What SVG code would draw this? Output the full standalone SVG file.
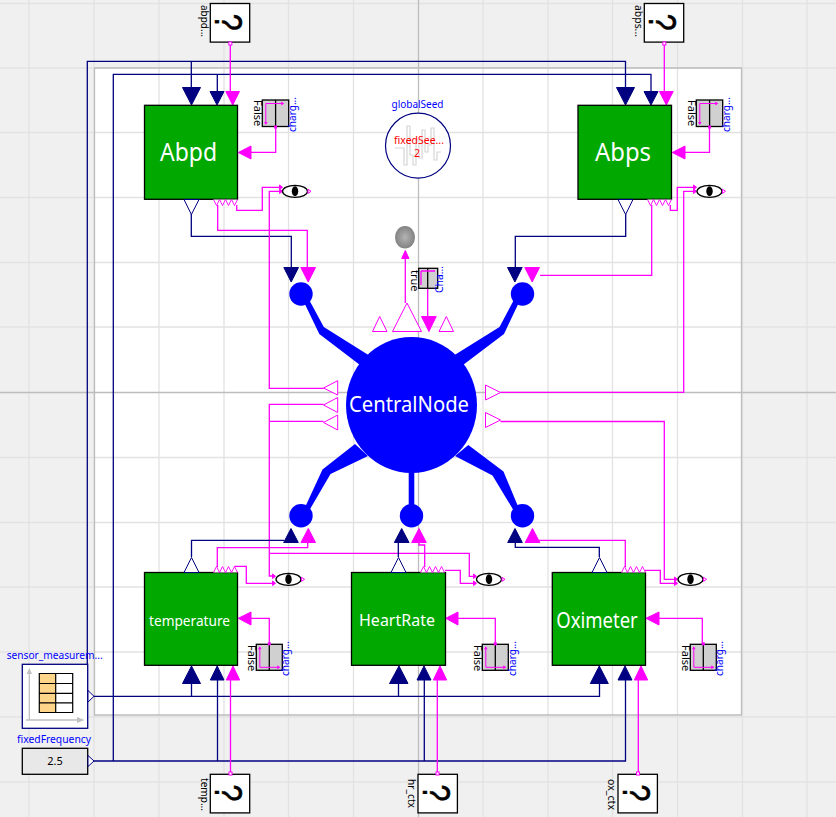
<svg xmlns="http://www.w3.org/2000/svg" xmlns:xlink="http://www.w3.org/1999/xlink" width="836" height="817" viewBox="0 0 836 817">
<style>
text{font-family:"Noto Sans","Open Sans","Liberation Sans",sans-serif}
.n{fill:none;stroke:#000080;stroke-width:1.3}
.m{fill:none;stroke:#ff00ff;stroke-width:1.3}
.nf{fill:#000080;stroke:#000080;stroke-width:1}
.mf{fill:#ff00ff;stroke:#ff00ff;stroke-width:1}
.nh{fill:#fff;stroke:#000080;stroke-width:1}
.mh{fill:#fff;stroke:#ff00ff;stroke-width:1}
.grid{stroke:#e2e2e2;stroke-width:1.3;fill:none}
.axis{stroke:#bdbdbd;stroke-width:1.3;fill:none}
.green{fill:#00a800;stroke:#000;stroke-width:1.3}
.big{fill:#fff;text-anchor:middle}
.bl{fill:#0000ff;font-size:11px}
.bk{fill:#000;font-size:11px}
.bus{fill:#0000ff}
</style>
<defs>
<radialGradient id="sph" cx="0.5" cy="0.5" r="0.55"><stop offset="0" stop-color="#b4b4b4"/><stop offset="1" stop-color="#7d7d7d"/></radialGradient>
<g id="eye">
<ellipse cx="13" cy="0" rx="12.500" ry="6" fill="#fff" stroke="#000" stroke-width="1.300"/>
<ellipse cx="13" cy="0" rx="3.200" ry="5" fill="#000"/>
<path d="M26 -2L29 0L26 2Z" fill="#fff" stroke="#ff00ff"/>
</g>
<g id="zz">
<path d="M0 0L3 6L6 0L9 6L12 0L15 6L18 0L21 6L24 0" fill="#fff" stroke="#ff00ff" stroke-width="0.900"/>
</g>
<g id="zu">
<path d="M0 0L3 -6L6 0L9 -6L12 0L15 -6L18 0L21 -6L24 0" fill="#fff" stroke="#ff00ff" stroke-width="0.900"/>
</g>
<g id="chT">
<rect x="0" y="0" width="26.400" height="26.500" fill="#d0d0d0" stroke="#000" stroke-width="1.300"/>
<path d="M13.300 0V26.500" stroke="#000" stroke-width="1.300"/>
<path d="M3.500 3.500H21M3.500 3.500V24" stroke="#ff00ff" stroke-width="1" fill="none"/>
<path d="M19 1.500L22 3.500L19 5.500zM1.700 22H5.300L3.500 25z" fill="#ff00ff"/>
<rect x="11.800" y="25.500" width="3" height="3" fill="#ff00ff"/>
</g>
<g id="chB">
<rect x="0" y="0" width="26" height="26" fill="#d0d0d0" stroke="#000" stroke-width="1.300"/>
<path d="M13 0V26" stroke="#000" stroke-width="1.300"/>
<path d="M3.500 23H23M3.500 23V3" stroke="#ff00ff" stroke-width="1" fill="none"/>
<path d="M21 21L24 23L21 25zM1.700 5H5.300L3.500 2z" fill="#ff00ff"/>
<rect x="11.500" y="-2" width="3" height="3" fill="#ff00ff"/>
</g>
<g id="qbox">
<rect x="0" y="0" width="39.400" height="38.600" fill="#fff" stroke="#000" stroke-width="1.300"/>
<text transform="translate(4.700 10.300) rotate(90) scale(0.8 1)" font-size="38" stroke="#000" stroke-width="0.500" style="font-family:'Liberation Sans',sans-serif" fill="#000">?</text>
</g>
</defs>
<rect id="canvas" width="836" height="817" fill="#f0f0f0"/>
<rect id="sheet" x="94.500" y="68" width="647" height="647" fill="#fff"/>
<path class="grid" d="M29 0V817M94 0V817M159 0V817M224 0V817M288.500 0V817M353.500 0V817M483 0V817M548 0V817M612.500 0V817M677.500 0V817M742.500 0V817M807 0V817M0 3.500H836M0 68H836M0 132.500H836M0 197.500H836M0 262.500H836M0 327H836M0 457.500H836M0 522.500H836M0 587H836M0 652H836M0 717H836M0 782H836"/>
<path class="axis" d="M418.500 0V817M0 392.500H836M94.500 68H741.500V715H94.500Z"/>

<g id="connectors">
<path class="n" d="M87.300 696V61.300H625.500V88M191.300 61.300V88M113.300 761V74.300H651V92M217.300 74.300V92"/>
<path class="n" d="M94 696.300H599.500V684M191.500 696.300V684M398.500 696.300V684"/>
<path class="n" d="M94 761H625.500V680M217.500 761V680M424.300 761V680"/>
<path class="m" d="M230.300 43V92M664.300 43V92M230.500 774V680M437.300 774V680M638.300 774V680"/>
<path class="m" d="M275.700 127V152.300H251M709.500 127V152.300H685M269.300 644V618.300H251M495.300 644V618.300H458M702.300 644V618.300H659"/>
<path class="n" d="M191.300 214V236.300H291.300V268M625.700 214V236.300H515.300V268"/>
<path class="m" d="M217.700 205V230.300H307.300V268M651.700 205V275.300H540"/>
<path class="m" d="M236.700 205V210.300H262.300V187.300H282M670.300 205V210.300H677.300V187.300H696"/>
<path class="m" d="M282 191.300H269.300V388.300H323.500M696 191.300H683.700V392.300H500.500"/>
<path class="m" d="M323.500 404.300H269.300V576H275M323.500 421.300H269.300V553.300H469.300V576.300H476M500.500 421.500H664.300V579.300H677"/>
<path class="n" d="M191.500 557V540.300H284M398.300 557V542M599.300 557V547.300H515.300V542"/>
<path class="m" d="M217.300 567V547.700H307.700V542M424.700 567V545H419V542M625.300 567V540.300H539"/>
<path class="m" d="M234.300 566.300H246.300V583.300H275M445 570.300H460.300V583.300H476M645 570.300H660.300V583.300H677"/>
<path class="m" d="M405.300 303V258M427.700 288V316"/>
<!-- arrows -->
<path class="nf" d="M182.500 87.500H200.500L191.500 105ZM210 91.500H224L217 105ZM616.500 87.500H634.500L625.500 105ZM644 91.500H658L651 105ZM283.800 267.500H298.500L291.200 282ZM507.500 267.500H522.200L514.900 282Z"/>
<path class="mf" d="M225.800 91.500H239.500L232.700 105ZM659.500 91.500H673.200L666.300 105ZM300.800 267.500H315.500L308.200 282ZM524.800 267.500H539.500L532.200 282ZM421.500 316.500H436.200L428.900 331.500Z"/>
<path class="mf" d="M238.300 152.500L251 146V159ZM672.300 152.500L685 146V159ZM238.300 618.300L251 612V625ZM445.700 618.300L458 612V625ZM646 618.300L659 612V625ZM405.300 250.500L409 258.500H401.700Z"/>
<path class="nf" d="M191.500 666L200.500 683.500H182.500ZM217.200 666L224 680H210.300ZM399 666L408 683.500H389.500ZM424 666L431 680H417ZM599.300 666L608.300 683.500H590.300ZM625 666L632 680H618ZM291 528.500L298.300 542.500H283.700ZM401.700 528.500L409 542.500H394.300ZM515 528.500L522.300 542.500H507.700Z"/>
<path class="mf" d="M233 666L239.700 680H226.300ZM440 666L446.700 680H433.300ZM641 666L647.700 680H634.300ZM308.300 528.500L315.500 542.500H301ZM419 528.500L426.300 542.500H411.700ZM532.500 528.500L539.800 542.500H525.200Z"/>
<path class="mf" stroke-width="0.500" d="M279.500 185L282.500 187.300L279.500 189.500ZM279.500 189L282.500 191.300L279.500 193.500ZM693.500 185L696.500 187.300L693.500 189.500ZM693.500 189L696.500 191.300L693.500 193.500ZM272.500 574L275.500 576.300L272.500 578.500ZM272.500 581L275.500 583.300L272.500 585.500ZM473.500 574L476.500 576.300L473.500 578.500ZM473.500 581L476.500 583.300L473.500 585.500ZM674.500 577L677.500 579.300L674.500 581.500ZM674.500 581L677.500 583.300L674.500 585.500Z"/>
</g>

<g id="CentralNode">
<path class="bus" d="M301 296L319.300 334L360 365L370 356L323.800 327L306 294ZM522 296L504 334L463 365L453 356L499.500 327L517 294ZM301 516L322.500 469.500L355 444L368 456L330.500 474L306 516ZM522 516L503.500 471.500L468.300 445L455 456L492.500 475.500L517 516ZM408.700 465H414.300V510H408.700Z"/>
<circle class="bus" cx="301" cy="294" r="11.700"/>
<circle class="bus" cx="522.500" cy="294" r="11.700"/>
<circle class="bus" cx="301" cy="515.700" r="11.700"/>
<circle class="bus" cx="411.500" cy="515.700" r="11.700"/>
<circle class="bus" cx="522.500" cy="515.700" r="11.700"/>
<ellipse class="bus" cx="411.500" cy="405" rx="65.500" ry="68"/>
<text class="big" x="409" y="412" font-size="21" textLength="120" lengthAdjust="spacingAndGlyphs">CentralNode</text>
<path class="mh" d="M337.700 380.700V395L323.500 388ZM337.700 397.500V412.500L323.500 405ZM337.700 415V430L323.500 422.500ZM485.500 385V400L500.500 392.500ZM485.500 412.500V427.500L500.500 420ZM372.500 331.500L379.700 316.500L387 331.500ZM392.500 331.500L407 303L421.500 331.500ZM439 331.500L446.300 316.500L453.500 331.500Z"/>
</g>

<g id="chargeCentral">
<rect x="418.700" y="268.300" width="19" height="20" fill="#d0d0d0" stroke="#000" stroke-width="1.300"/>
<path d="M427.700 268.300V288.300" stroke="#000" stroke-width="1.300"/>
<path class="m" d="M421 271H435M421 271V285"/>
<text class="bk" transform="translate(411 270) rotate(90)">true</text>
<text class="bl" transform="translate(443 293) rotate(-90)" textLength="27" lengthAdjust="spacingAndGlyphs">Cha...</text>
</g>
<ellipse id="sphere" cx="405" cy="237.300" rx="10" ry="11.300" fill="url(#sph)"/>

<g id="globalSeed">
<circle cx="418" cy="145.700" r="32.500" fill="#fff" stroke="#000080" stroke-width="1.200"/>
<path d="M395 148H404V165H407V126H410V155H413V165H416V140H419V158H422V130H425V152H428V145H431V128H434V160H437V152H441" fill="none" stroke="#d6d6d6" stroke-width="1.200"/>
<text x="417.500" y="108" font-size="10.500" text-anchor="middle" fill="#0000ff" textLength="52" lengthAdjust="spacingAndGlyphs">globalSeed</text>
<text x="419" y="144" font-size="10.500" text-anchor="middle" fill="#ff0000" textLength="50" lengthAdjust="spacingAndGlyphs">fixedSee...</text>
<text x="417" y="157" font-size="10.500" text-anchor="middle" fill="#ff0000">2</text>
</g>

<g id="Abpd">
<rect class="green" x="144.500" y="105.300" width="93" height="94"/>
<text class="big" x="188.500" y="161" font-size="26" textLength="57" lengthAdjust="spacingAndGlyphs">Abpd</text>
<path class="nh" d="M184 199.500H199L191.400 214.500Z"/>
<use xlink:href="#zz" href="#zz" x="213.500" y="199.500"/>
<use href="#eye" xlink:href="#eye" x="282" y="191.300"/>
<use href="#chT" xlink:href="#chT" x="262.300" y="100"/>
<text class="bk" transform="translate(253.500 100) rotate(90)">False</text>
<text class="bl" transform="translate(295.500 132) rotate(-90)" textLength="35" lengthAdjust="spacingAndGlyphs">charg...</text>
</g>
<g id="Abps">
<rect class="green" x="578" y="105.300" width="93.500" height="94"/>
<text class="big" x="623" y="161" font-size="26" textLength="56" lengthAdjust="spacingAndGlyphs">Abps</text>
<path class="nh" d="M618 199.500H633L625.600 214.500Z"/>
<use href="#zz" xlink:href="#zz" x="647.500" y="199.500"/>
<use href="#eye" xlink:href="#eye" x="696.500" y="191.300"/>
<use href="#chT" xlink:href="#chT" x="696.300" y="100"/>
<text class="bk" transform="translate(687.500 100) rotate(90)">False</text>
<text class="bl" transform="translate(729.500 132) rotate(-90)" textLength="35" lengthAdjust="spacingAndGlyphs">charg...</text>
</g>
<g id="temperature">
<rect class="green" x="144.500" y="572.500" width="93" height="92.800"/>
<text class="big" x="189.500" y="625.500" font-size="14.500" textLength="81" lengthAdjust="spacingAndGlyphs">temperature</text>
<path class="nh" d="M184 572.500H199L191.500 557.500Z"/>
<use href="#zu" xlink:href="#zu" x="213.500" y="572.500"/>
<use href="#eye" xlink:href="#eye" x="275.500" y="579.300"/>
<use href="#chB" xlink:href="#chB" x="256.300" y="644.300"/>
<text class="bk" transform="translate(247.500 645) rotate(90)">False</text>
<text class="bl" transform="translate(289 676) rotate(-90)" textLength="35" lengthAdjust="spacingAndGlyphs">charg...</text>
</g>
<g id="HeartRate">
<rect class="green" x="351.500" y="572.500" width="94" height="92.800"/>
<text class="big" x="397" y="626" font-size="17" textLength="76" lengthAdjust="spacingAndGlyphs">HeartRate</text>
<path class="nh" d="M391 572.500H406L398.500 557.500Z"/>
<use href="#zu" xlink:href="#zu" x="420.500" y="572.500"/>
<use href="#eye" xlink:href="#eye" x="476" y="579.300"/>
<use href="#chB" xlink:href="#chB" x="482.300" y="644.300"/>
<text class="bk" transform="translate(474 645) rotate(90)">False</text>
<text class="bl" transform="translate(515.500 676) rotate(-90)" textLength="35" lengthAdjust="spacingAndGlyphs">charg...</text>
</g>
<g id="Oximeter">
<rect class="green" x="552.300" y="572.500" width="93.200" height="92.800"/>
<text class="big" x="597" y="628" font-size="21" textLength="81.500" lengthAdjust="spacingAndGlyphs">Oximeter</text>
<path class="nh" d="M592 572.500H607L599.500 557.500Z"/>
<use href="#zu" xlink:href="#zu" x="621.500" y="572.500"/>
<use href="#eye" xlink:href="#eye" x="677.500" y="579.300"/>
<use href="#chB" xlink:href="#chB" x="690.300" y="644.300"/>
<text class="bk" transform="translate(681.500 645) rotate(90)">False</text>
<text class="bl" transform="translate(723 676) rotate(-90)" textLength="35" lengthAdjust="spacingAndGlyphs">charg...</text>
</g>

<g id="abpd_edge">
<use href="#qbox" xlink:href="#qbox" x="210.300" y="3.500"/>
<rect x="228.800" y="42" width="3" height="3" fill="#fff" stroke="#ff00ff"/>
<text class="bk" transform="translate(200.500 5) rotate(90)" textLength="32" lengthAdjust="spacingAndGlyphs">abpd...</text>
</g>
<g id="abps_edge">
<use href="#qbox" xlink:href="#qbox" x="644.300" y="3.500"/>
<rect x="662.800" y="42" width="3" height="3" fill="#fff" stroke="#ff00ff"/>
<text class="bk" transform="translate(634.500 5) rotate(90)" textLength="32" lengthAdjust="spacingAndGlyphs">abps...</text>
</g>
<g id="temp_ctx">
<use href="#qbox" xlink:href="#qbox" x="210.300" y="774.300"/>
<rect x="229" y="772" width="3" height="3" fill="#fff" stroke="#ff00ff"/>
<text class="bk" transform="translate(200.500 778) rotate(90)" textLength="33" lengthAdjust="spacingAndGlyphs">temp...</text>
</g>
<g id="hr_ctx">
<use href="#qbox" xlink:href="#qbox" x="418" y="774.300"/>
<rect x="436" y="772" width="3" height="3" fill="#fff" stroke="#ff00ff"/>
<text class="bk" transform="translate(407.500 779) rotate(90)" textLength="29" lengthAdjust="spacingAndGlyphs">hr_ctx</text>
</g>
<g id="ox_ctx">
<use href="#qbox" xlink:href="#qbox" x="618" y="774.300"/>
<rect x="636.500" y="772" width="3" height="3" fill="#fff" stroke="#ff00ff"/>
<text class="bk" transform="translate(608 779) rotate(90)" textLength="31" lengthAdjust="spacingAndGlyphs">ox_ctx</text>
</g>

<g id="sensor_measurements">
<rect x="22.300" y="664.300" width="65.400" height="64" fill="#fff" stroke="#000080" stroke-width="1.300"/>
<path d="M29.300 720V672M26 720H80" stroke="#c0c0c0" stroke-width="1.300" fill="none"/>
<path d="M29.300 668L32 674H26.600ZM84.500 720L77 717V723Z" fill="#c0c0c0"/>
<rect x="39.300" y="673.500" width="16.500" height="39" fill="#ffd58a"/>
<path d="M39.300 673.500H72.700V712.500H39.300ZM55.700 673.500V712.500M39.300 683.500H72.700M39.300 693.300H72.700M39.300 702.800H72.700" fill="none" stroke="#000" stroke-width="1.200"/>
<path class="nh" d="M88 690.500L94 696.300L88 702Z"/>
<text x="54.700" y="659" font-size="11" text-anchor="middle" fill="#0000ff" textLength="96" lengthAdjust="spacingAndGlyphs">sensor_measurem...</text>
</g>
<g id="fixedFrequency">
<rect x="22.300" y="748.300" width="65.400" height="26" fill="#e8e8e8" stroke="#000" stroke-width="1.300"/>
<path class="nh" d="M88 755.500L94 761L88 766.500Z"/>
<text x="54" y="743" font-size="11" text-anchor="middle" fill="#0000ff" textLength="74" lengthAdjust="spacingAndGlyphs">fixedFrequency</text>
<text x="55" y="765" font-size="11" text-anchor="middle" fill="#000">2.5</text>
</g>
</svg>
